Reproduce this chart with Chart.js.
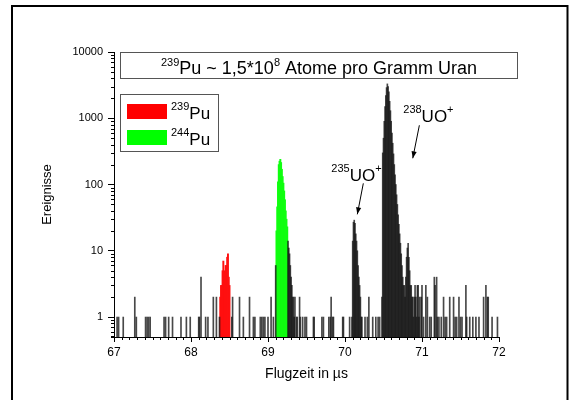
<!DOCTYPE html>
<html><head><meta charset="utf-8">
<script src="https://cdn.jsdelivr.net/npm/chart.js@4/dist/chart.umd.min.js"></script>
<style>html,body{margin:0;padding:0;background:#fff;}canvas{display:block;}</style>
</head><body>
<canvas id="c" width="575" height="400" style="width:575px;height:400px"></canvas>
<script>
// ---- data ----
const xTickValues = [67, 68, 69, 70, 71, 72];
const yTickValues = [1, 10, 100, 1000, 10000];

const bgTimes = [67.04,67.06,67.12,67.27,67.29,67.41,67.43,67.45,67.47,67.65,67.67,67.71,67.76,67.87,67.94,67.99,
  68.10,68.11,68.13,68.19,68.22,68.29,68.33,68.37,68.53,68.54,68.63,68.68,68.76,68.81,68.83,68.90,68.92,68.94,68.96,
  69.00,69.04,69.07,69.10,69.26,69.27,69.28,69.29,69.30,69.31,69.32,69.33,69.34,69.35,69.37,69.38,69.41,69.42,69.45,
  69.48,69.50,69.59,69.60,69.70,69.72,69.79,69.81,69.82,69.84,69.85,69.97,69.98,
  70.06,70.09,70.10,70.11,70.12,70.13,70.14,70.15,70.16,70.17,70.18,70.19,70.20,70.21,70.22,
  70.26,70.29,70.31,70.36,70.40,70.43,70.45,
  70.48,70.49,70.50,70.51,70.52,70.53,70.54,70.55,70.56,70.57,70.58,70.59,70.60,70.61,70.62,70.63,70.64,70.65,
  70.66,70.67,70.68,70.69,70.70,70.71,70.72,70.73,70.74,70.75,70.76,70.77,70.78,70.79,70.80,70.81,70.82,70.83,
  70.84,70.85,70.86,70.87,70.88,70.89,70.90,70.91,70.92,70.93,70.94,70.95,70.96,70.97,70.99,
  71.00,71.02,71.05,71.07,71.10,71.12,71.16,71.17,71.19,71.20,71.22,71.25,71.28,71.30,71.32,71.36,71.41,71.43,
  71.45,71.48,71.50,71.52,71.57,71.58,71.62,71.66,71.70,71.74,71.80,71.83,71.85,71.86,71.91,71.98];
const bgCounts = [1,1,1,2,1,1,1,1,1,1,1,1,1,1,1,1,
  1,1,4,1,1,2,2,1,1,2,2,1,2,1,1,1,1,1,1,
  1,2,1,6,14,11,9,6,4,3,2,2,1,2,1,1,2,1,1,
  1,1,1,1,1,1,1,1,2,1,1,1,1,
  1,1,14,27,29,26,18,14,10,6,4,3,2,1,1,
  1,1,2,1,1,1,1,
  2,300,500,900,1500,2200,2900,3300,3000,2500,1800,1300,900,600,420,290,200,140,
  100,70,50,35,25,18,13,9,6,4,3,3,2,4,8,11,13,8,
  5,3,3,2,2,1,2,3,2,1,3,3,1,2,2,
  3,1,3,2,1,1,4,3,4,1,1,1,2,1,1,2,2,1,
  1,2,1,1,3,1,1,1,1,1,2,3,2,2,1,1];

const pu239Times  = [68.38,68.39,68.40,68.41,68.42,68.43,68.44,68.45,68.46,68.47,68.48,68.49,68.50];
const pu239Counts = [2,3,3,5,7,4,5,6,6,8,9,4,3];

const pu244Times  = [69.11,69.12,69.13,69.14,69.15,69.16,69.17,69.18,69.19,69.20,69.21,69.22,69.23,69.24,69.25];
const pu244Counts = [20,46,110,200,225,240,215,170,132,105,80,59,40,30,23];

const legendLabels = [['239', 'Pu'], ['244', 'Pu']];
const peakLabels = [['235', 'UO', '+'], ['238', 'UO', '+']];
const peakTipTimes = [70.16, 70.88];
const peakTipCounts = [35.5, 249];

// ---- helpers ----
const FONT = '"Liberation Sans", Arial, sans-serif';
const toPoints = (xs, ys) => xs.map((x, i) => ({x: x, y: ys[i]}));

function drawRich(ctx, parts, x, y, size, supSize, raise, align) {
  let w = 0;
  parts.forEach(p => { ctx.font = (p.sup ? supSize : size) + 'px ' + FONT; w += ctx.measureText(p.t).width; });
  let cx = align === 'center' ? x - w / 2 : x;
  ctx.textAlign = 'left';
  ctx.textBaseline = 'alphabetic';
  parts.forEach(p => {
    ctx.font = (p.sup ? supSize : size) + 'px ' + FONT;
    ctx.fillText(p.t, cx, p.sup ? y - raise : y);
    cx += ctx.measureText(p.t).width;
  });
}

function drawArrow(ctx, x1, y1, x2, y2) {
  ctx.beginPath(); ctx.moveTo(x1, y1); ctx.lineTo(x2, y2); ctx.stroke();
  const a = Math.atan2(y2 - y1, x2 - x1), L = 7, W = 2.6;
  ctx.beginPath();
  ctx.moveTo(x2, y2);
  ctx.lineTo(x2 - L * Math.cos(a) + W * Math.sin(a), y2 - L * Math.sin(a) - W * Math.cos(a));
  ctx.lineTo(x2 - L * Math.cos(a) - W * Math.sin(a), y2 - L * Math.sin(a) + W * Math.cos(a));
  ctx.closePath(); ctx.fill();
}

const decor = {
  id: 'decor',
  afterDraw(chart) {
    const ctx = chart.ctx, ca = chart.chartArea;
    const xs = chart.scales.x, ys = chart.scales.y;
    ctx.save();
    // minor ticks
    ctx.strokeStyle = '#000'; ctx.lineWidth = 1;
    for (let k = -1; k <= 3; k++) {
      for (let n = 2; n <= 9; n++) {
        const v = n * Math.pow(10, k);
        if (v < ys.min || v > ys.max) continue;
        const py = Math.round(ys.getPixelForValue(v)) + 0.5;
        ctx.beginPath(); ctx.moveTo(ca.left - 3, py); ctx.lineTo(ca.left, py); ctx.stroke();
      }
    }
    ctx.beginPath(); ctx.moveTo(ca.left - 3, ca.bottom - 0.5); ctx.lineTo(ca.left, ca.bottom - 0.5); ctx.stroke();
    for (let t = 670; t <= 720; t++) {
      if (t % 10 === 0) continue;
      const px = Math.round(xs.getPixelForValue(t / 10)) + 0.5;
      ctx.beginPath(); ctx.moveTo(px, ca.bottom); ctx.lineTo(px, ca.bottom + 3); ctx.stroke();
    }
    // outer frame
    ctx.lineWidth = 2; ctx.strokeStyle = '#000';
    ctx.beginPath(); ctx.moveTo(12, 410); ctx.lineTo(12, 6); ctx.lineTo(567.5, 6); ctx.lineTo(567.5, 410); ctx.stroke();
    // title box
    ctx.lineWidth = 1; ctx.strokeStyle = '#555';
    ctx.strokeRect(ca.left + 6.5, ca.top + 0.5, 397, 26);
    ctx.fillStyle = '#000';
    drawRich(ctx, [{t:'239', sup:true}, {t:'Pu ~ 1,5*10'}, {t:'8', sup:true}, {t:' Atome pro Gramm Uran'}],
      ca.left + 6.5 + 397 / 2, ca.top + 22, 18, 11, 8, 'center');
    // legend
    ctx.strokeStyle = '#555';
    ctx.strokeRect(ca.left + 6.5, ca.top + 42.5, 98, 57);
    const sw = ['#ff0000', '#00ff00'];
    legendLabels.forEach((lab, i) => {
      const top = ca.top + 52 + i * 26;
      ctx.fillStyle = sw[i];
      ctx.fillRect(ca.left + 13, top, 40, 15);
      ctx.fillStyle = '#000';
      drawRich(ctx, [{t: lab[0], sup: true}, {t: lab[1]}], ca.left + 57, top + 15, 17, 11, 9, 'left');
    });
    // peak annotations
    ctx.strokeStyle = '#000'; ctx.fillStyle = '#000'; ctx.lineWidth = 1;
    const lab = [{dx: -26, dy: -33.5, tx: 6, ty: -31}, {dx: -9.5, dy: -36.5, tx: 6.6, ty: -33}];
    peakLabels.forEach((pl, i) => {
      const px = xs.getPixelForValue(peakTipTimes[i]);
      const py = ys.getPixelForValue(peakTipCounts[i]);
      drawRich(ctx, [{t: pl[0], sup: true}, {t: pl[1]}, {t: pl[2], sup: true}], px + lab[i].dx, py + lab[i].dy, 17, 11, 9, 'left');
      drawArrow(ctx, px + lab[i].tx, py + lab[i].ty, px, py);
    });
    ctx.restore();
  }
};

new Chart(document.getElementById('c'), {
  type: 'bar',
  data: {
    datasets: [
      {data: toPoints(bgTimes, bgCounts), backgroundColor: 'rgba(20,20,20,0.78)', barThickness: 1},
      {data: toPoints(pu239Times, pu239Counts), backgroundColor: '#ff1010', barThickness: 1.3},
      {data: toPoints(pu244Times, pu244Counts), backgroundColor: '#10ff10', barThickness: 1.3}
    ]
  },
  options: {
    responsive: false,
    devicePixelRatio: 1,
    animation: false,
    events: [],
    grouped: false,
    borderWidth: 0,
    layout: {padding: {top: 52, right: 76, bottom: 0, left: 0}},
    plugins: {legend: {display: false}, tooltip: {enabled: false}, title: {display: false}},
    scales: {
      x: {
        type: 'linear', min: 67, max: 72, offset: false,
        afterBuildTicks: s => { s.ticks = xTickValues.map(v => ({value: v})); },
        afterFit: s => { s.height = 63; },
        grid: {drawOnChartArea: false, offset: false, tickLength: 5, color: '#000'},
        border: {display: true, color: '#000', width: 1},
        ticks: {font: {family: FONT, size: 12}, color: '#000', padding: 3, maxRotation: 0},
        title: {display: true, text: 'Flugzeit in µs', color: '#000', font: {family: FONT, size: 14}, padding: {top: 0, bottom: 17.6}}
      },
      y: {
        type: 'logarithmic', min: 0.5, max: 10000,
        afterBuildTicks: s => { s.ticks = yTickValues.map(v => ({value: v})); },
        afterFit: s => { s.width = 114; },
        grid: {drawOnChartArea: false, tickLength: 6, color: '#000'},
        border: {display: true, color: '#000', width: 1},
        ticks: {font: {family: FONT, size: 11}, color: '#000', padding: 5, callback: v => String(v)},
        title: {display: true, text: 'Ereignisse', color: '#000', font: {family: FONT, size: 13}, padding: {top: 40, bottom: 0}}
      }
    }
  },
  plugins: [decor]
});
</script>
</body></html>
